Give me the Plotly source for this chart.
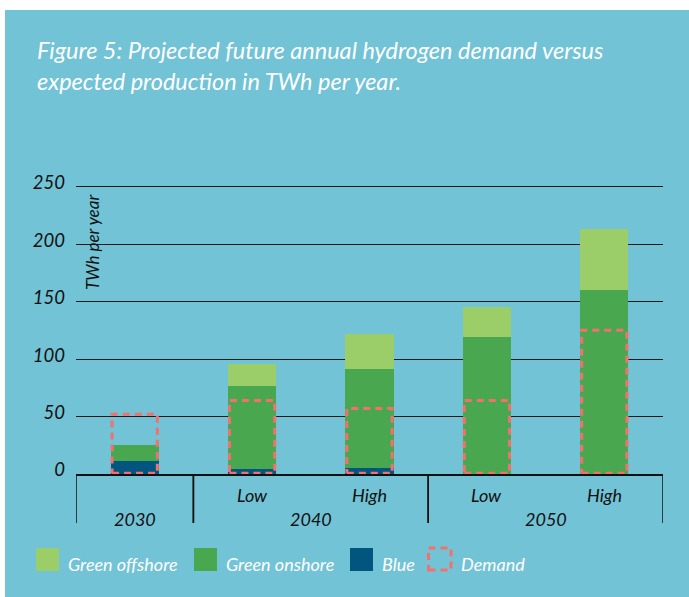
import plotly.graph_objects as go

# ---------------- data ----------------
sub_labels = ["", "Low", "High", "Low", "High"]
group_labels = ["2030", "2040", "2040", "2050", "2050"]
blue = [11, 4, 5, 0, 0]
green_onshore = [14, 73, 86, 119, 160]
green_offshore = [0, 19, 31, 26, 53]
demand = [52, 64, 57, 64, 125]
y_ticks = [0, 50, 100, 150, 200, 250]

title_text = ("Figure 5: Projected future annual hydrogen demand versus<br>"
              "expected production in TWh per year.")
y_title = "TWh per year"

# ---------------- styles ----------------
BG = "#72C3D6"
C_OFF = "#9BCD69"
C_ON = "#49A750"
C_BLUE = "#02557F"
C_DEM = "#F4706E"
FONT = "Lato"
BAR_W = 0.41

W, H = 689, 597
L, R, T, B = 76, 26, 184, 123
pw, ph = W - L - R, H - T - B
Y_TOP = (H - B - T) / 1.1492


def px_x(p):
    return (p - L) / pw


def px_y(p):
    return (H - B - p) / ph


x = list(range(len(sub_labels)))

fig = go.Figure()
fig.add_trace(go.Bar(x=x, y=blue, name="Blue", marker_color=C_BLUE, width=BAR_W,
                     marker_line_width=0))
fig.add_trace(go.Bar(x=x, y=green_onshore, name="Green onshore", marker_color=C_ON,
                     width=BAR_W, marker_line_width=0))
fig.add_trace(go.Bar(x=x, y=green_offshore, name="Green offshore", marker_color=C_OFF,
                     width=BAR_W, marker_line_width=0))

# demand dashed rectangles
dx, dy = [], []
for i, d in zip(x, demand):
    h = BAR_W / 2 - 0.012
    dx += [i - h, i + h, i + h, i - h, i - h, None]
    dy += [0.6, 0.6, d, d, 0.6, None]
fig.add_trace(go.Scatter(x=dx, y=dy, mode="lines", name="Demand",
                         line=dict(color=C_DEM, width=3, dash="7px,5px"),
                         hoverinfo="skip"))

shapes = []
annotations = []

# background panel
shapes.append(dict(type="rect", xref="paper", yref="paper", layer="below",
                   x0=px_x(5), x1=px_x(700), y0=px_y(10), y1=px_y(600),
                   fillcolor=BG, line_width=0))

# category labels
for i, (s, g) in enumerate(zip(sub_labels, group_labels)):
    if s:
        annotations.append(dict(x=i, y=0, xref="x", yref="paper", text=s,
                                showarrow=False, xanchor="center", yanchor="middle",
                                yshift=-21,
                                font=dict(family=FONT, size=18, color="#111111",
                                          style="italic")))
# group labels and dividers
groups = []
for i, g in enumerate(group_labels):
    if groups and groups[-1][0] == g:
        groups[-1][2] = i
    else:
        groups.append([g, i, i])
div_y = px_y(523)
for g, a, b in groups:
    annotations.append(dict(x=(a + b) / 2, y=0, xref="x", yref="paper", text=g,
                            showarrow=False, xanchor="center", yanchor="middle",
                            yshift=-45,
                            font=dict(family=FONT, size=18, color="#111111",
                                      style="italic")))
    for xv in (a - 0.5, b + 0.5):
        shapes.append(dict(type="line", xref="x", yref="paper", x0=xv, x1=xv,
                           y0=0, y1=div_y, line=dict(color="#111111", width=1.5)))

# y-axis title inside the plot
annotations.append(dict(x=px_x(92), y=px_y(242), xref="paper", yref="paper",
                        text=y_title, textangle=-90, showarrow=False,
                        xanchor="center", yanchor="middle",
                        font=dict(family=FONT, size=17, color="#111111",
                                  style="italic")))

# title
annotations.append(dict(x=px_x(35), y=px_y(34), xref="paper", yref="paper",
                        text=title_text, showarrow=False, xanchor="left",
                        yanchor="top", align="left",
                        font=dict(family=FONT, size=23.5, color="white",
                                  style="italic")))

# manual legend
legend_items = [("Green offshore", C_OFF, 36, 66), ("Green onshore", C_ON, 194, 224),
                ("Blue", C_BLUE, 350, 380), ("Demand", None, 427, 459)]
for name, col, sx, tx in legend_items:
    if col:
        shapes.append(dict(type="rect", xref="paper", yref="paper",
                           x0=px_x(sx), x1=px_x(sx + 23), y0=px_y(571), y1=px_y(548),
                           fillcolor=col, line_width=0))
    else:
        shapes.append(dict(type="rect", xref="paper", yref="paper",
                           x0=px_x(sx + 1.5), x1=px_x(sx + 24), y0=px_y(570), y1=px_y(548),
                           fillcolor="rgba(0,0,0,0)",
                           line=dict(color=C_DEM, width=3, dash="7px,5px")))
    annotations.append(dict(x=px_x(tx), y=px_y(564), xref="paper", yref="paper",
                            text=name, showarrow=False, xanchor="left",
                            yanchor="middle",
                            font=dict(family=FONT, size=18, color="white",
                                      style="italic")))

fig.update_layout(
    width=W, height=H,
    margin=dict(l=L, r=R, t=T, b=B),
    paper_bgcolor="white",
    plot_bgcolor="rgba(0,0,0,0)",
    barmode="stack",
    showlegend=False,
    shapes=shapes,
    annotations=annotations,
    xaxis=dict(range=[-0.5, len(x) - 0.5], showticklabels=False, showgrid=False,
               zeroline=False, showline=True, linecolor="#111111", linewidth=1.5,
               fixedrange=True),
    yaxis=dict(range=[0, Y_TOP], tickvals=y_ticks, showgrid=True,
               gridcolor="#1a1a1a", gridwidth=1.3, zeroline=False, showline=False,
               ticks="", ticklabelshift=-4, ticklabelstandoff=10,
               tickfont=dict(family=FONT, size=18.5, color="#111111", style="italic"),
               fixedrange=True),
)

fig.write_html("out.html", config={"displayModeBar": False},
               post_script="document.body.style.margin='0';document.body.style.padding='0';")
